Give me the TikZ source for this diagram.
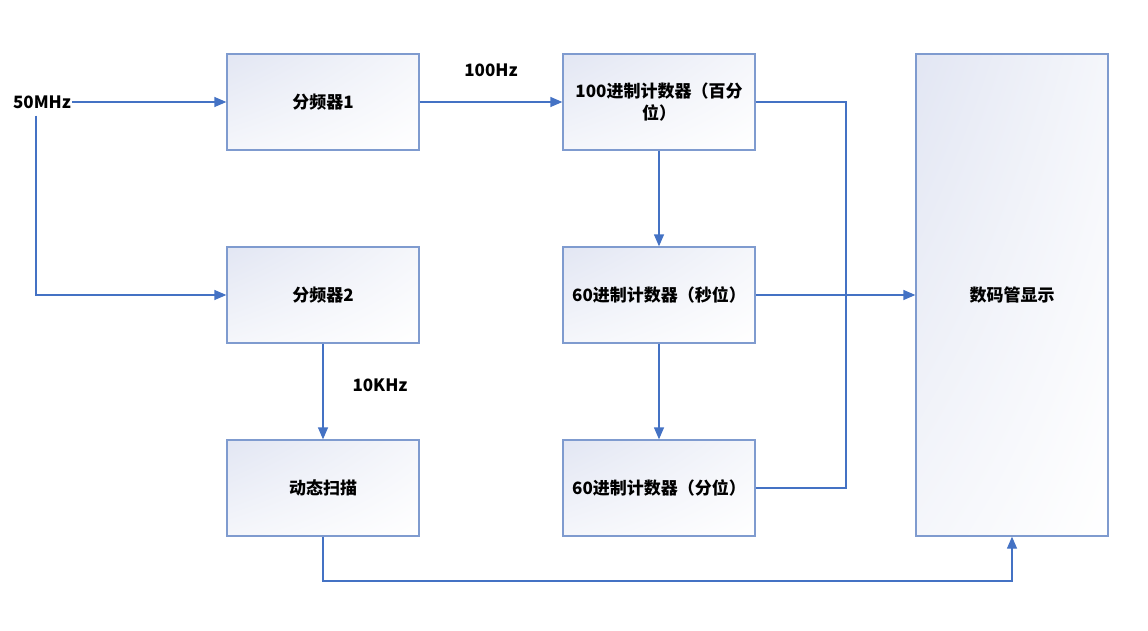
\documentclass[tikz,border=0pt]{standalone}
\usepackage{fontspec}
\setmainfont{Noto Sans CJK SC}
\usetikzlibrary{arrows.meta, positioning, shadings}
\definecolor{wire}{RGB}{68,114,196}
\definecolor{boxedge}{RGB}{127,155,207}
\definecolor{boxtint}{RGB}{226,230,243}

\begin{document}
\begin{tikzpicture}[x=1pt, y=-1pt, font=\bfseries\fontsize{17}{22}\selectfont,
    blk/.style={draw=boxedge, line width=1.3pt, minimum width=192pt, minimum height=96pt,
        upper left=boxtint, upper right=boxtint!35!white, lower left=boxtint!35!white,
        lower right=white, align=center, inner sep=2pt},
    wireline/.style={draw=wire, line width=1.3pt},
    sig/.style={wireline, -{Triangle[length=12pt, width=10pt]}}]
    \useasboundingbox (0,0) rectangle (1148,631);

    % Frequency dividers and scan
    \node[inner sep=1pt] (clk) at (42,102) {50MHz};
    \node[blk] (div1) at (323,102) {分频器1};
    \node[blk] (div2) at (323,295) {分频器2};
    \node[blk] (scan) at (323,488) {动态扫描};

    % Counters
    \node[blk] (cent) at (659,102) {100进制计数器（百分\\位）};
    \node[blk] (csec) at (659,295) {60进制计数器（秒位）};
    \node[blk] (cmin) at (659,488) {60进制计数器（分位）};

    % Display
    \node[blk, minimum height=482pt] (disp) at (1012,295) {数码管显示};

    % Rate labels
    \node (hz) at (491,70) {100Hz};
    \node (khz) at (380,385) {10KHz};

    % Clock paths
    \draw[sig] (clk.east) -- (div1.west);
    \draw[sig] ([xshift=-6pt, yshift=-6pt]clk.south) |- (div2.west);
    \draw[sig] (div1.east) -- (cent.west);
    \draw[sig] (div2.south) -- (scan.north);

    % Carry chain
    \draw[sig] (cent.south) -- (csec.north);
    \draw[sig] (csec.south) -- (cmin.north);

    % Bus to display
    \coordinate (bus) at (846,295);
    \draw[wireline] (cent.east) -| (bus);
    \draw[wireline] (cmin.east) -| (bus);
    \draw[sig] (csec.east) -- (disp.west);

    % Scan select
    \coordinate (low) at (0,581);
    \draw[sig] (scan.south) |- (disp.south |- low) -- (disp.south);
\end{tikzpicture}
\end{document}
